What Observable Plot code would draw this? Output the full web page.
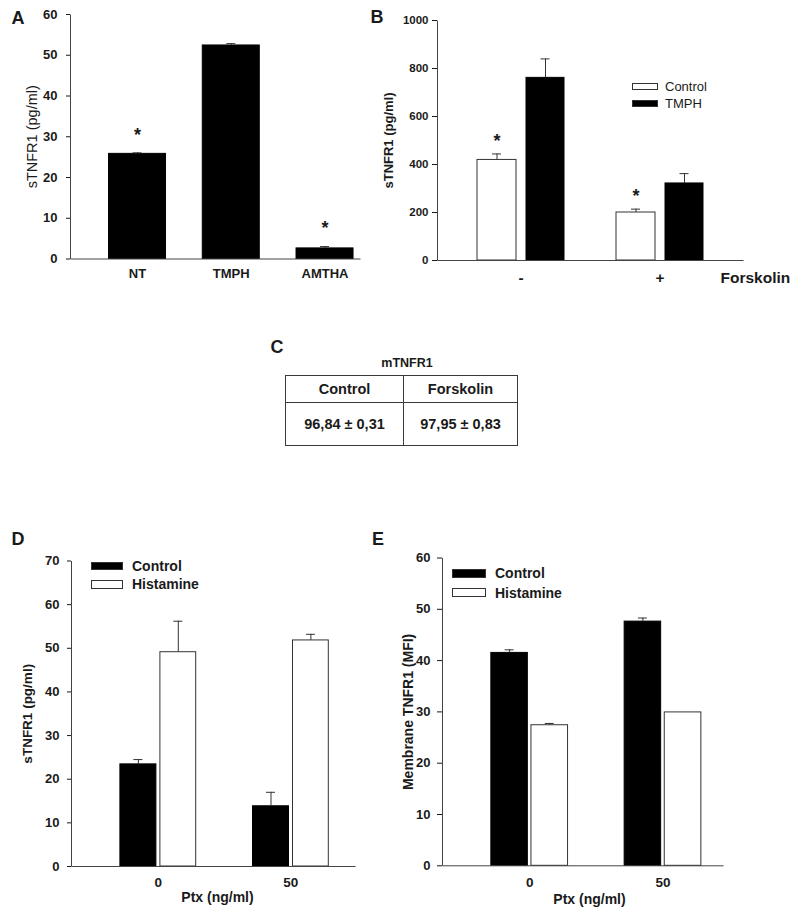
<!DOCTYPE html>
<html>
<head>
<meta charset="utf-8">
<script src="https://cdn.jsdelivr.net/npm/d3@7"></script>
<script src="https://cdn.jsdelivr.net/npm/@observablehq/plot@0.6"></script>
<style>
  body { margin: 0; background: #fff; }
  #root { position: relative; width: 800px; height: 917px; overflow: hidden;
          font-family: 'Liberation Sans', Arial, Helvetica, sans-serif; color: #1a1a1a; background: #fff; }
  .abs { position: absolute; white-space: nowrap; line-height: 1; }
  .panel { position: absolute; }
  .sw { position: absolute; box-sizing: border-box; border: 1px solid #333; }
  table.ct { position: absolute; border-collapse: collapse; table-layout: fixed; }
  table.ct td { border: 1.5px solid #3a3a3a; text-align: center; font-weight: bold; padding: 0; }
</style>
</head>
<body>
<div id="root"></div>
<script>
// ---------------- DATA ----------------
// Panel A
const aCategories = ["NT", "TMPH", "AMTHA"];
const aValues = [25.8, 52.4, 2.6];
const aErrors = [0.25, 0.45, 0.45];
const aStars = [true, false, true];
const aTicks = [0, 10, 20, 30, 40, 50, 60];
const aYLabel = "sTNFR1 (pg/ml)";

// Panel B
const bGroups = ["-", "+"];
const bSeries = ["Control", "TMPH"];
const bControl = [419, 200];
const bControlErr = [25, 14];
const bTMPH = [761, 321];
const bTMPHErr = [79, 41];
const bStars = [true, true];
const bTicks = [0, 200, 400, 600, 800, 1000];
const bYLabel = "sTNFR1 (pg/ml)";
const bXTitle = "Forskolin";

// Panel C
const cTitle = "mTNFR1";
const cHeaders = ["Control", "Forskolin"];
const cValues = ["96,84 ± 0,31", "97,95 ± 0,83"];

// Panel D
const dGroups = ["0", "50"];
const dSeries = ["Control", "Histamine"];
const dControl = [23.4, 13.8];
const dControlErr = [1.1, 3.2];
const dHistamine = [49.1, 51.8];
const dHistamineErr = [7.1, 1.4];
const dTicks = [0, 10, 20, 30, 40, 50, 60, 70];
const dYLabel = "sTNFR1 (pg/ml)";
const dXTitle = "Ptx (ng/ml)";

// Panel E
const eGroups = ["0", "50"];
const eSeries = ["Control", "Histamine"];
const eControl = [41.5, 47.6];
const eControlErr = [0.6, 0.7];
const eHistamine = [27.4, 29.9];
const eHistamineErr = [0.35, 0];
const eTicks = [0, 10, 20, 30, 40, 50, 60];
const eYLabel = "Membrane TNFR1 (MFI)";
const eXTitle = "Ptx (ng/ml)";

// ---------------- RENDER ----------------
const FONT = "'Liberation Sans', Arial, Helvetica, sans-serif";
const AXIS = "#444";
const ERR = "#333";
const root = document.getElementById("root");

function barPanel(cfg) {
  const {left, top, width, height, mt, mr, mb, ml, yMax, yTicks, tickSize, tickPadding, tickFont,
         groups, centers, series, xLabelDy, xLabelSize, starDy, yLabel, yLabelDx, yLabelSize, yLabelWeight,
         extra = []} = cfg;
  const step = (centers[centers.length - 1] - centers[0]) / (centers.length - 1);
  const range = [centers[0] - step / 2, centers[centers.length - 1] + step / 2];
  const bw = step;
  const fw = width - ml - mr, fh = height - mt - mb;
  const marks = [];
  for (const s of series) {
    const rows = groups.map((g, i) => ({group: g, value: s.values[i], err: s.errors[i], star: s.stars ? s.stars[i] : false}));
    const [a, b] = s.span;
    const c = (a + b) / 2;
    marks.push(Plot.barY(rows, {x: "group", y1: 0, y2: "value", fill: s.fill, stroke: s.stroke, strokeWidth: 1,
                                insetLeft: a, insetRight: bw - b}));
    const er = rows.filter(d => d.err > 0);
    marks.push(Plot.ruleX(er, {x: "group", y1: "value", y2: d => d.value + d.err, dx: c - bw / 2, stroke: ERR, strokeWidth: 1}));
    marks.push(Plot.tickY(er, {x: "group", y: d => d.value + d.err, insetLeft: c - 4.5, insetRight: bw - c - 4.5, stroke: ERR, strokeWidth: 1}));
    const st = rows.filter(d => d.star);
    marks.push(Plot.text(st, {x: "group", y: d => d.value + d.err, text: () => "*", dx: c - bw / 2, dy: starDy,
                              fontSize: 18, fontWeight: "bold", lineAnchor: "middle", textAnchor: "middle"}));
  }
  // axis lines (left + bottom sides of the frame)
  marks.push(Plot.frame({stroke: AXIS, strokeWidth: 1, strokeDasharray: `0 ${fw + fh} ${fw + fh}`}));
  // category labels
  marks.push(Plot.text(groups, {x: d => d, text: d => d, frameAnchor: "bottom", dy: xLabelDy, fontSize: xLabelSize,
                                fontWeight: "bold", lineAnchor: "middle", textAnchor: "middle"}));
  // y label
  marks.push(Plot.text([yLabel], {text: d => d, frameAnchor: "left", dx: yLabelDx, rotate: -90, fontSize: yLabelSize,
                                  fontWeight: yLabelWeight, lineAnchor: "middle", textAnchor: "middle"}));
  marks.push(...extra);
  const svg = Plot.plot({
    width, height, marginTop: mt, marginRight: mr, marginBottom: mb, marginLeft: ml,
    style: {fontFamily: FONT, fontSize: tickFont + "px", fontWeight: "bold", color: "#1a1a1a", background: "transparent", overflow: "visible"},
    x: {domain: groups, range, padding: 0, round: false, axis: null},
    y: {domain: [0, yMax], ticks: yTicks, tickSize, tickPadding, tickFormat: d => String(d), label: null},
    marks
  });
  const div = document.createElement("div");
  div.className = "panel";
  div.style.left = left + "px";
  div.style.top = top + "px";
  div.appendChild(svg);
  root.appendChild(div);
}

function txt(s, x, y, {size = 14, weight = "bold", anchor = "middle"} = {}) {
  const el = document.createElement("div");
  el.className = "abs";
  el.textContent = s;
  el.style.left = x + "px";
  el.style.top = y + "px";
  el.style.fontSize = size + "px";
  el.style.fontWeight = weight;
  el.style.transform = anchor === "middle" ? "translate(-50%,-50%)" : "translate(0,-50%)";
  root.appendChild(el);
}

function legend(labels, fills, {x, w, h, centersY, textX, size, weight}) {
  labels.forEach((lab, i) => {
    const sw = document.createElement("div");
    sw.className = "sw";
    sw.style.left = x + "px";
    sw.style.top = (centersY[i] - h / 2) + "px";
    sw.style.width = w + "px";
    sw.style.height = h + "px";
    sw.style.background = fills[i];
    root.appendChild(sw);
    txt(lab, textX, centersY[i], {size, weight, anchor: "start"});
  });
}

// Panel A
barPanel({
  left: 0, top: 0, width: 372, height: 290, mt: 14, mr: 12, mb: 31.5, ml: 70,
  yMax: 60, yTicks: aTicks, tickSize: 4, tickPadding: 9, tickFont: 13,
  groups: aCategories, centers: [137, 231, 324.5],
  series: [{values: aValues, errors: aErrors, stars: aStars, fill: "#000", stroke: "#000", span: [18.4, 75.4]}],
  xLabelDy: 14.5, xLabelSize: 13, starDy: -18,
  yLabel: aYLabel, yLabelDx: -38, yLabelSize: 14.5, yLabelWeight: "normal"
});

// Panel B
barPanel({
  left: 372, top: 0, width: 428, height: 290, mt: 20, mr: 57, mb: 30, ml: 65,
  yMax: 1000, yTicks: bTicks, tickSize: 5, tickPadding: 4, tickFont: 11.5,
  groups: bGroups, centers: [148.5, 287.5],
  series: [
    {values: bControl, errors: bControlErr, stars: bStars, fill: "#fff", stroke: "#333", span: [26, 65]},
    {values: bTMPH, errors: bTMPHErr, fill: "#000", stroke: "#000", span: [75, 113]}
  ],
  xLabelDy: 18, xLabelSize: 15.5, starDy: -13,
  yLabel: bYLabel, yLabelDx: -49, yLabelSize: 13, yLabelWeight: "bold",
  extra: [Plot.text([bXTitle], {text: d => d, frameAnchor: "bottom-right", dx: -23, dy: 18, fontSize: 15.5,
                                fontWeight: "bold", textAnchor: "start", lineAnchor: "middle"})]
});

// Panel D
barPanel({
  left: 0, top: 500, width: 372, height: 417, mt: 60.5, mr: 17, mb: 51, ml: 71,
  yMax: 70, yTicks: dTicks, tickSize: 4, tickPadding: 8, tickFont: 13,
  groups: dGroups, centers: [157.7, 290.3],
  series: [
    {values: dControl, errors: dControlErr, fill: "#000", stroke: "#000", span: [28.5, 64.5]},
    {values: dHistamine, errors: dHistamineErr, fill: "#fff", stroke: "#333", span: [68.5, 104.3]}
  ],
  xLabelDy: 16, xLabelSize: 13.5, starDy: -13,
  yLabel: dYLabel, yLabelDx: -44, yLabelSize: 13.5, yLabelWeight: "bold",
  extra: [Plot.text([dXTitle], {text: d => d, frameAnchor: "bottom", dx: 4, dy: 31, fontSize: 14,
                                fontWeight: "bold", textAnchor: "middle", lineAnchor: "middle"})]
});

// Panel E
barPanel({
  left: 372, top: 500, width: 428, height: 417, mt: 57.5, mr: 77, mb: 51.7, ml: 70,
  yMax: 60, yTicks: eTicks, tickSize: 5, tickPadding: 7, tickFont: 13,
  groups: eGroups, centers: [157.2, 290.5],
  series: [
    {values: eControl, errors: eControlErr, fill: "#000", stroke: "#000", span: [28.3, 64.8]},
    {values: eHistamine, errors: eHistamineErr, fill: "#fff", stroke: "#333", span: [68.4, 105]}
  ],
  xLabelDy: 16.4, xLabelSize: 13.5, starDy: -13,
  yLabel: eYLabel, yLabelDx: -34, yLabelSize: 14, yLabelWeight: "bold",
  extra: [Plot.text([eXTitle], {text: d => d, frameAnchor: "bottom", dx: 6.5, dy: 33.7, fontSize: 14,
                                fontWeight: "bold", textAnchor: "middle", lineAnchor: "middle"})]
});

// Legends
legend(bSeries, ["#fff", "#000"], {x: 632, w: 26, h: 7, centersY: [86.3, 103.3], textX: 665, size: 13, weight: "normal"});
legend(dSeries, ["#000", "#fff"], {x: 91, w: 32, h: 8.5, centersY: [566, 584.3], textX: 132, size: 14, weight: "bold"});
legend(eSeries, ["#000", "#fff"], {x: 452, w: 34, h: 8.5, centersY: [573.3, 592.5], textX: 495, size: 14, weight: "bold"});

// Panel letters
txt("A", 18, 17.5, {size: 18});
txt("B", 377, 16.5, {size: 18});
txt("C", 277, 347, {size: 18});
txt("D", 18, 539, {size: 18});
txt("E", 378, 539, {size: 18});

// Panel C table
txt(cTitle, 407, 363.3, {size: 12.5});
const table = document.createElement("table");
table.className = "ct";
table.style.left = "285px";
table.style.top = "375px";
table.style.width = "232px";
table.style.height = "70px";
const colgroup = document.createElement("colgroup");
[118, 114].forEach(w => { const col = document.createElement("col"); col.style.width = w + "px"; colgroup.appendChild(col); });
table.appendChild(colgroup);
[[cHeaders, 27], [cValues, 43]].forEach(([cells, h]) => {
  const tr = document.createElement("tr");
  tr.style.height = h + "px";
  cells.forEach(c => {
    const td = document.createElement("td");
    td.textContent = c;
    td.style.fontSize = "14.5px";
    tr.appendChild(td);
  });
  table.appendChild(tr);
});
root.appendChild(table);
</script>
</body>
</html>
